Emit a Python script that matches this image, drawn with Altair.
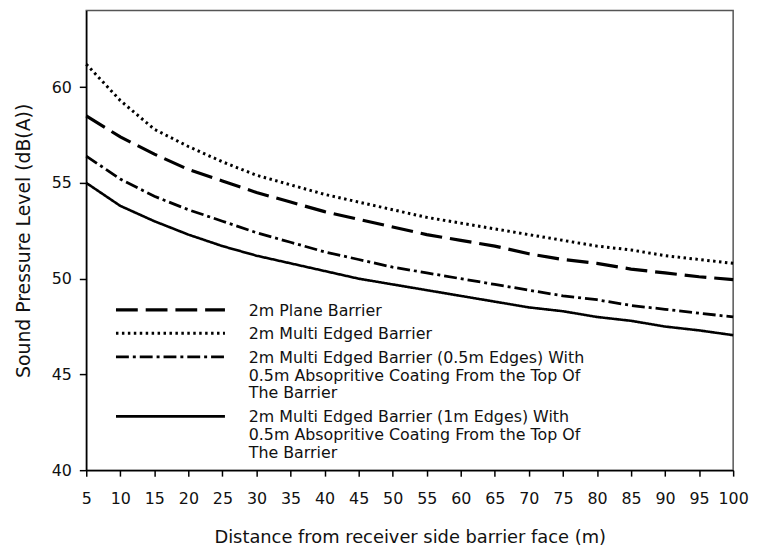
import altair as alt
import pandas as pd

distance = [5, 10, 15, 20, 25, 30, 35, 40, 45, 50, 55, 60, 65, 70, 75, 80, 85, 90, 95, 100]

plane = [58.5, 57.4, 56.5, 55.7, 55.1, 54.5, 54.0, 53.5, 53.1, 52.7, 52.3, 52.0, 51.7, 51.3, 51.0, 50.8, 50.5, 50.3, 50.1, 49.95]
multi = [61.2, 59.3, 57.8, 56.9, 56.1, 55.4, 54.9, 54.4, 54.0, 53.6, 53.2, 52.9, 52.6, 52.3, 52.0, 51.7, 51.5, 51.2, 51.0, 50.8]
edges05 = [56.4, 55.2, 54.3, 53.6, 53.0, 52.4, 51.9, 51.4, 51.0, 50.6, 50.3, 50.0, 49.7, 49.4, 49.1, 48.9, 48.6, 48.4, 48.2, 48.0]
edges1 = [55.0, 53.8, 53.0, 52.3, 51.7, 51.2, 50.8, 50.4, 50.0, 49.7, 49.4, 49.1, 48.8, 48.5, 48.3, 48.0, 47.8, 47.5, 47.3, 47.05]

series_names = [
    "2m Plane Barrier",
    "2m Multi Edged Barrier",
    "2m Multi Edged Barrier (0.5m Edges) With|0.5m Absopritive Coating From the Top Of|The Barrier",
    "2m Multi Edged Barrier (1m Edges) With|0.5m Absopritive Coating From the Top Of|The Barrier",
]
series_values = [plane, multi, edges05, edges1]

rows = []
for name, vals in zip(series_names, series_values):
    for d, v in zip(distance, vals):
        rows.append({"distance": d, "spl": v, "series": name})
df = pd.DataFrame(rows)

dashes = [[22, 8], [2.5, 3.5], [13, 4, 3, 4], [1, 0]]
widths = [3.2, 2.6, 3.4, 1]

FONT = "DejaVu Sans"
LABEL_EXPR = "split(datum.label, '|')"
# long horizontal line symbol (small nominal size keeps legend rows compact),
# raised a little so it sits level with the first text line
LINE_SYMBOL = "M-1,-0.527L9,-0.527"

chart = alt.Chart(df).mark_line(color="black").encode(
    x=alt.X("distance:Q",
            scale=alt.Scale(domain=[5, 100], nice=False, zero=False),
            axis=alt.Axis(title="Distance from receiver side barrier face (m)",
                          values=list(range(5, 101, 5)), grid=False,
                          tickSize=6, labelPadding=15, titlePadding=22,
                          labelFlush=False)),
    y=alt.Y("spl:Q",
            scale=alt.Scale(domain=[40, 64], nice=False, zero=False),
            axis=alt.Axis(title="Sound Pressure Level (dB(A))",
                          values=[40, 45, 50, 55, 60], grid=False,
                          tickSize=7, labelPadding=8, titlePadding=18,
                          titleFontSize=19)),
    strokeDash=alt.StrokeDash("series:N",
                              scale=alt.Scale(domain=series_names, range=dashes),
                              legend=alt.Legend(title=None, labelExpr=LABEL_EXPR)),
    strokeWidth=alt.StrokeWidth("series:N",
                                scale=alt.Scale(domain=series_names, range=widths),
                                legend=alt.Legend(title=None, labelExpr=LABEL_EXPR)),
    detail="series:N",
).properties(
    width=653, height=464,
    padding={"left": 6, "top": 0, "right": 0, "bottom": 0},
).configure_view(
    stroke="#555", strokeWidth=1.5,
).configure_axis(
    domainColor="black", domainWidth=1.5, tickColor="black", tickWidth=1.5,
    labelFont=FONT, labelFontSize=16, labelColor="#111",
    titleFont=FONT, titleFontSize=18, titleFontWeight="normal", titleColor="#111",
).configure_legend(
    orient="none", legendX=28, legendY=295, padding=0,
    symbolType=LINE_SYMBOL, symbolSize=484, symbolStrokeColor="black",
    symbolFillColor="transparent",
    labelFont=FONT, labelFontSize=16, labelColor="#111", labelLimit=600,
    labelOffset=110, rowPadding=7, labelBaseline="alphabetic", gridAlign="none",
)

chart.save("out.html", embed_options={"renderer": "svg", "actions": False})
